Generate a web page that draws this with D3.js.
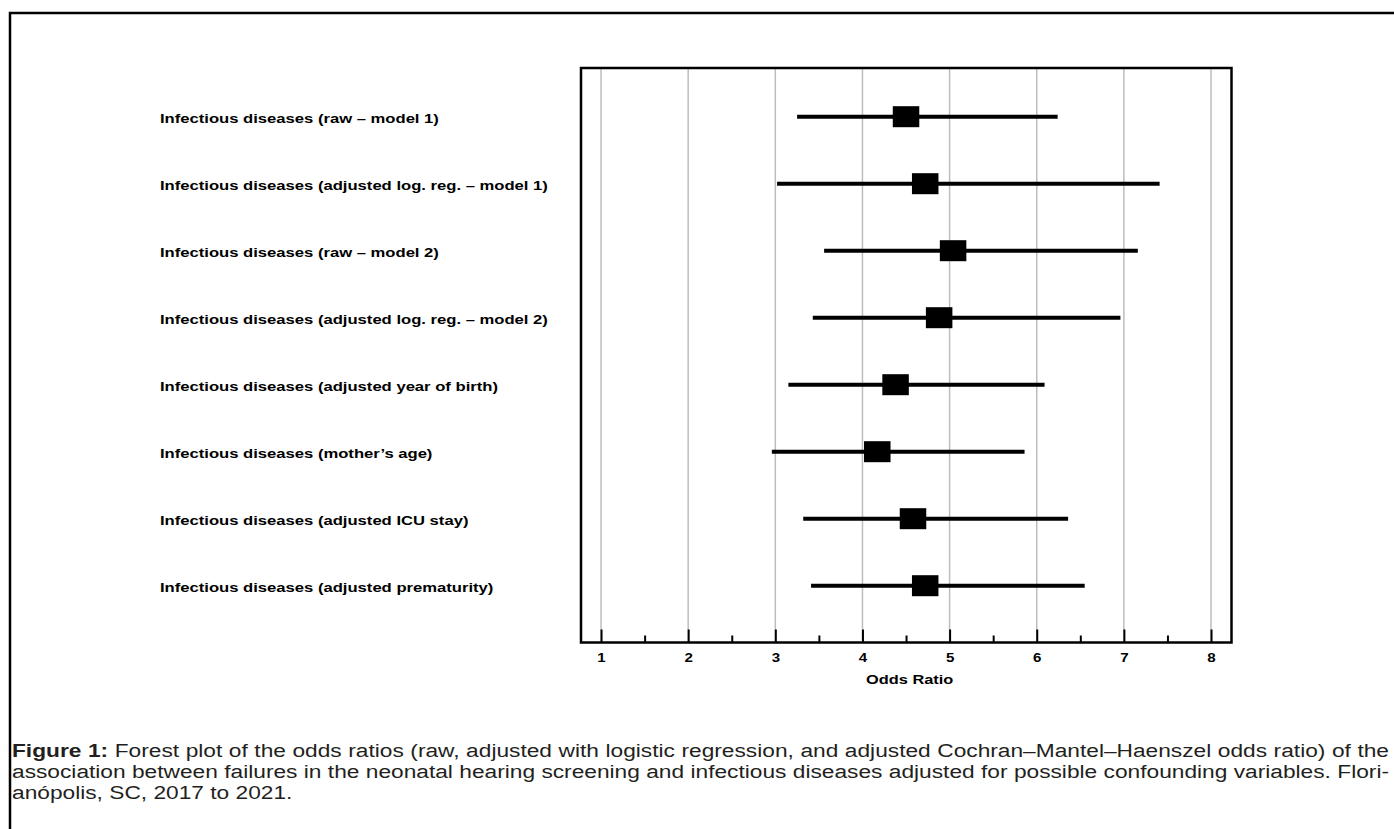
<!DOCTYPE html>
<html>
<head>
<meta charset="utf-8">
<script src="https://cdn.jsdelivr.net/npm/d3@7"></script>
<style>
  body { margin: 0; background: #fff; }
  svg { display: block; }
</style>
</head>
<body>
<div id="chart"></div>
<script>
// rows of the forest plot, top to bottom
const labels = [
    "Infectious diseases (raw \u2013 model 1)",
    "Infectious diseases (adjusted log. reg. \u2013 model 1)",
    "Infectious diseases (raw \u2013 model 2)",
    "Infectious diseases (adjusted log. reg. \u2013 model 2)",
    "Infectious diseases (adjusted year of birth)",
    "Infectious diseases (mother\u2019s age)",
    "Infectious diseases (adjusted ICU stay)",
    "Infectious diseases (adjusted prematurity)"
];
const oddsRatio = [4.50, 4.72, 5.04, 4.88, 4.38, 4.17, 4.58, 4.72];
const ciLower = [3.25, 3.02, 3.56, 3.43, 3.15, 2.96, 3.32, 3.41];
const ciUpper = [6.24, 7.41, 7.16, 6.96, 6.09, 5.86, 6.36, 6.55];

const majorTicks = [1, 2, 3, 4, 5, 6, 7, 8];
const minorTicks = [1.5, 2.5, 3.5, 4.5, 5.5, 6.5, 7.5];
const xTitle = "Odds Ratio";

const captionBold = "Figure 1:";
const captionLines = [
    " Forest plot of the odds ratios (raw, adjusted with logistic regression, and adjusted Cochran\u2013Mantel\u2013Haenszel odds ratio) of the",
    "association between failures in the neonatal hearing screening and infectious diseases adjusted for possible confounding variables. Flori-",
    "an\u00f3polis, SC, 2017 to 2021."
];

const config = {
    width: 1394,
    height: 829,
    plot: { left: 581, right: 1231.5, top: 68, bottom: 642.5 },
    stretch: 1.26   // the original figure is stretched sideways
};

const svg = d3.select("#chart").append("svg")
    .attr("width", config.width)
    .attr("height", config.height);

// outer figure border (left and top only)
svg.append("path")
    .attr("d", `M10,${config.height} V13 H${config.width}`)
    .attr("fill", "none")
    .attr("stroke", "#000")
    .attr("stroke-width", 2.5);

const p = config.plot;

// scales
const x = d3.scaleLinear()
    .domain([0.77, 8.235])
    .range([p.left, p.right]);

const y = d3.scalePoint()
    .domain(labels)
    .range([116.7, 585.7]);

// gridlines
svg.append("g")
    .selectAll("line")
    .data(majorTicks)
    .join("line")
    .attr("x1", d => x(d))
    .attr("x2", d => x(d))
    .attr("y1", p.top)
    .attr("y2", p.bottom)
    .attr("stroke", "#bdbdbd")
    .attr("stroke-width", 1.5);

// major ticks with labels
const xAxis = svg.append("g")
    .attr("transform", `translate(0,${p.bottom})`)
    .call(d3.axisBottom(x).tickValues(majorTicks).tickSize(-13).tickPadding(11).tickFormat(d3.format("d")));

xAxis.select(".domain").remove();
xAxis.selectAll(".tick line").attr("stroke", "#000").attr("stroke-width", 2);
xAxis.selectAll(".tick text")
    .attr("fill", "#000")
    .attr("transform", `scale(${config.stretch},1)`)
    .style("font-family", "'Liberation Sans', Arial, sans-serif")
    .style("font-weight", "bold")
    .style("font-size", "12px");

// minor ticks
const xMinor = svg.append("g")
    .attr("transform", `translate(0,${p.bottom})`)
    .call(d3.axisBottom(x).tickValues(minorTicks).tickSize(-7).tickFormat(""));

xMinor.select(".domain").remove();
xMinor.selectAll(".tick line").attr("stroke", "#000").attr("stroke-width", 2);

// frame
svg.append("rect")
    .attr("x", p.left)
    .attr("y", p.top)
    .attr("width", p.right - p.left)
    .attr("height", p.bottom - p.top)
    .attr("fill", "none")
    .attr("stroke", "#000")
    .attr("stroke-width", 2.5);

// axis title
svg.append("text")
    .attr("transform", `translate(909.7,684) scale(${config.stretch},1)`)
    .attr("text-anchor", "middle")
    .style("font-family", "'Liberation Sans', Arial, sans-serif")
    .style("font-weight", "bold")
    .style("font-size", "13px")
    .text(xTitle);

// row labels
svg.append("g")
    .selectAll("text")
    .data(labels)
    .join("text")
    .attr("transform", d => `translate(160,${y(d) + 6}) scale(${config.stretch},1)`)
    .style("font-family", "'Liberation Sans', Arial, sans-serif")
    .style("font-weight", "bold")
    .style("font-size", "13.2px")
    .text(d => d);

// confidence intervals and point estimates
const rows = svg.append("g")
    .selectAll("g")
    .data(labels)
    .join("g");

rows.append("line")
    .attr("x1", (d, i) => x(ciLower[i]))
    .attr("x2", (d, i) => x(ciUpper[i]))
    .attr("y1", d => y(d))
    .attr("y2", d => y(d))
    .attr("stroke", "#000")
    .attr("stroke-width", 4);

const boxW = 26.5, boxH = 21;
rows.append("rect")
    .attr("x", (d, i) => x(oddsRatio[i]) - boxW / 2)
    .attr("y", d => y(d) - boxH / 2)
    .attr("width", boxW)
    .attr("height", boxH)
    .attr("fill", "#000");

// caption: fixed height, stretched sideways to fill, then justified
const capLeft = 12, capRight = 1389;
const capBase = [757, 778, 799];
const capSize = 17.6;

const capText = captionLines.map((line, i) => {
    const t = svg.append("text")
        .attr("fill", "#231f20")
        .style("font-family", "'Liberation Sans', Arial, sans-serif")
        .style("font-size", `${capSize}px`)
        .style("white-space", "pre");
    if (i === 0) {
        t.append("tspan").style("font-weight", "bold").text(captionBold);
    }
    t.append("tspan").text(line);
    return t;
});

const sx = (capRight - capLeft) / capText[1].node().getComputedTextLength();

capText.forEach((t, i) => {
    t.attr("transform", `translate(${capLeft},${capBase[i]}) scale(${sx},1)`);
    if (i === capText.length - 1) return;
    const natural = t.node().getComputedTextLength();
    const str = (i === 0 ? captionBold : "") + captionLines[i];
    const spaces = str.split(" ").length - 1;
    t.style("word-spacing", `${((capRight - capLeft) / sx - natural) / spaces}px`);
});
</script>
</body>
</html>
